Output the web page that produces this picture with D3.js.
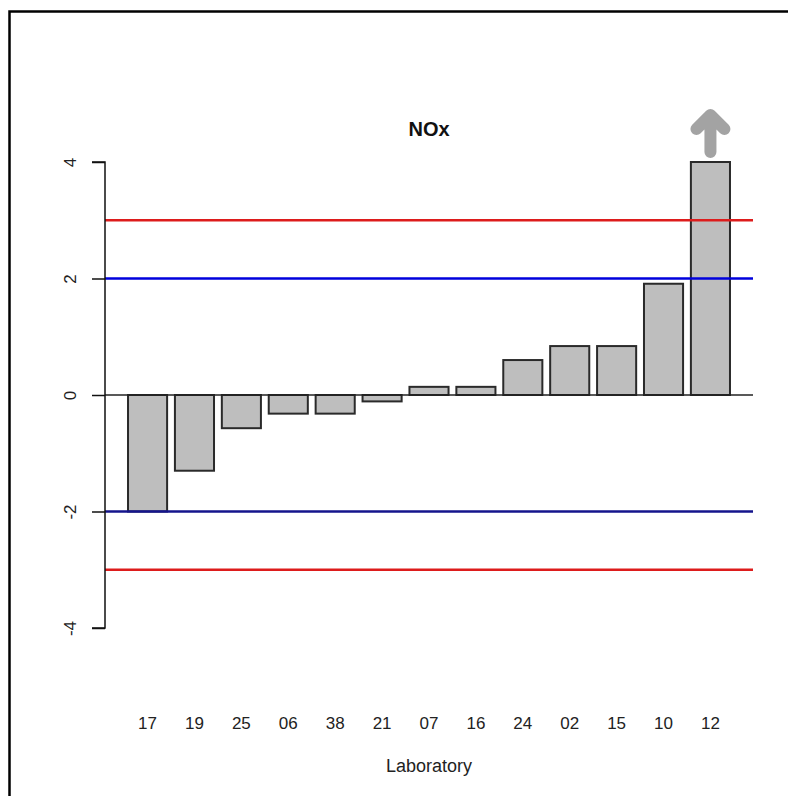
<!DOCTYPE html>
<html>
<head>
<meta charset="utf-8">
<script src="https://cdn.jsdelivr.net/npm/d3@7"></script>
<style>
  body { margin: 0; background: #fff; }
  text { font-family: "Liberation Sans", Arial, sans-serif; }
</style>
</head>
<body>
<div id="wrapper"></div>
<script>
// Labore und z-Scores (sortiert)
const labs = ["17", "19", "25", "06", "38", "21", "07", "16", "24", "02", "15", "10", "12"];
const scores = [-2.0, -1.3, -0.57, -0.32, -0.32, -0.11, 0.14, 0.14, 0.6, 0.84, 0.84, 1.91, 4.0];
const yTicks = [-4, -2, 0, 2, 4];
const warnLimits = [2, -2];
const actionLimits = [3, -3];
const clippedLabs = ["12"];   // Wert liegt über der Achse -> Pfeil

const width = 788;
const height = 796;

const plot = { left: 105, right: 753, top: 162, bottom: 628 };

const svg = d3.select('#wrapper')
    .append('svg')
    .attr('width', width)
    .attr('height', height);

// Rahmen (nur oben und links sichtbar)
svg.append('path')
    .attr('d', 'M9.5,796 V11.5 H788')
    .attr('fill', 'none')
    .attr('stroke', '#000')
    .attr('stroke-width', 2.5);

const x = d3.scaleBand()
    .domain(labs)
    .range([120.2, 737.8])
    .paddingInner(1 / 6)
    .paddingOuter(1 / 6);

const y = d3.scaleLinear()
    .domain([-4, 4])
    .range([plot.bottom, plot.top]);

/// BALKEN
svg.append('g')
    .selectAll('rect')
    .data(labs)
    .enter()
    .append('rect')
    .attr('x', (d, i) => x(d))
    .attr('y', (d, i) => y(Math.max(0, scores[i])))
    .attr('width', x.bandwidth())
    .attr('height', (d, i) => Math.abs(y(scores[i]) - y(0)))
    .attr('fill', '#bebebe')
    .attr('stroke', '#2a2a2a')
    .attr('stroke-width', 2);

/// GRENZLINIEN
svg.selectAll('line.action')
    .data(actionLimits)
    .enter()
    .append('line')
    .attr('class', 'action')
    .attr('x1', plot.left)
    .attr('x2', plot.right)
    .attr('y1', d => y(d))
    .attr('y2', d => y(d))
    .attr('stroke', '#dd1c1c')
    .attr('stroke-width', 2.5);

svg.selectAll('line.warn')
    .data(warnLimits)
    .enter()
    .append('line')
    .attr('class', 'warn')
    .attr('x1', plot.left)
    .attr('x2', plot.right)
    .attr('y1', d => y(d))
    .attr('y2', d => y(d))
    .attr('stroke', d => d > 0 ? '#0000dd' : '#14148c')
    .attr('stroke-width', 2.5);

// Nulllinie
svg.append('line')
    .attr('x1', plot.left)
    .attr('x2', plot.right)
    .attr('y1', y(0))
    .attr('y2', y(0))
    .attr('stroke', '#222')
    .attr('stroke-width', 1.5);

/// Y-ACHSE
const yAxis = svg.append('g')
    .attr('transform', `translate(${plot.left},0)`)
    .call(d3.axisLeft(y).tickValues(yTicks).tickSize(13).tickFormat(d3.format('d')));

yAxis.select('.domain')
    .attr('stroke', '#111')
    .attr('stroke-width', 1.5)
    .attr('d', `M-13,${y(4)}H0V${y(-4)}H-13`);

yAxis.selectAll('.tick line')
    .attr('stroke', '#111')
    .attr('stroke-width', 1.5);

yAxis.selectAll('.tick text')
    .attr('x', 0)
    .attr('dy', 0)
    .attr('text-anchor', 'middle')
    .attr('transform', 'translate(-29,0) rotate(-90)')
    .attr('fill', '#222')
    .style('font-size', '17px')
    .text(d => d < 0 ? '-' + Math.abs(d) : d);

/// X-BESCHRIFTUNG
svg.selectAll('text.lab')
    .data(labs)
    .enter()
    .append('text')
    .attr('class', 'lab')
    .attr('x', d => x(d) + x.bandwidth() / 2)
    .attr('y', 729)
    .attr('text-anchor', 'middle')
    .attr('fill', '#222')
    .style('font-size', '17px')
    .text(d => d);

svg.append('text')
    .attr('x', (plot.left + plot.right) / 2)
    .attr('y', 772)
    .attr('text-anchor', 'middle')
    .attr('fill', '#222')
    .style('font-size', '18px')
    .text('Laboratory');

svg.append('text')
    .attr('x', (plot.left + plot.right) / 2)
    .attr('y', 136)
    .attr('text-anchor', 'middle')
    .attr('fill', '#111')
    .style('font-size', '20px')
    .style('font-weight', 'bold')
    .text('NOx');

/// PFEIL für Werte außerhalb
const arrows = svg.selectAll('path.arrow')
    .data(clippedLabs)
    .enter()
    .append('path')
    .attr('class', 'arrow')
    .attr('d', d => {
        const cx = x(d) + x.bandwidth() / 2;
        const top = y(4) - 49;
        return `M${cx},${y(4) - 10}V${top + 2}M${cx - 14},${top + 16}L${cx},${top + 2}L${cx + 14},${top + 16}`;
    })
    .attr('fill', 'none')
    .attr('stroke', '#a3a3a3')
    .attr('stroke-width', 12)
    .attr('stroke-linecap', 'round')
    .attr('stroke-linejoin', 'round');
</script>
</body>
</html>
